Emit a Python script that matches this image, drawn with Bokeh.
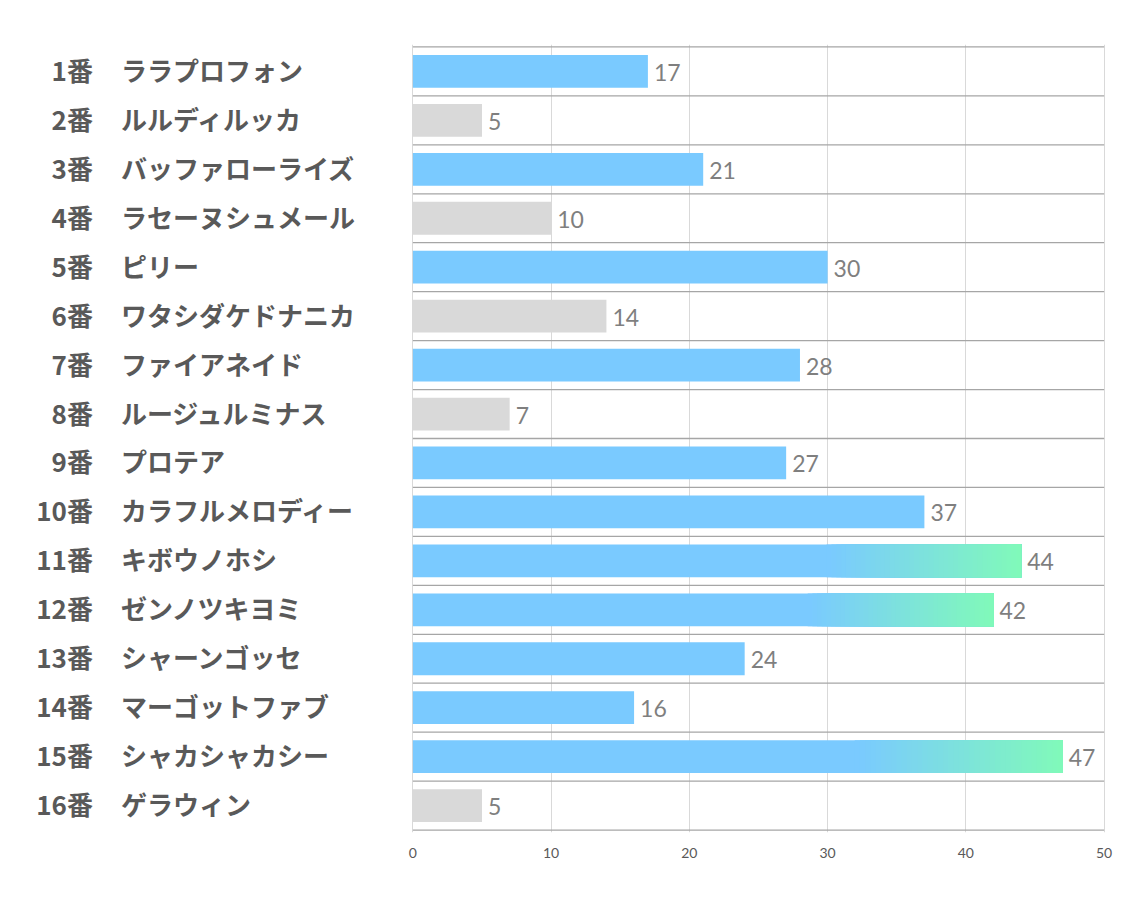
from bokeh.plotting import figure
from bokeh.models import ColumnDataSource, Range1d, FixedTicker
from bokeh.core.properties import value
from bokeh.embed import file_html
from bokeh.resources import INLINE

numbers = ["1番", "2番", "3番", "4番", "5番", "6番", "7番", "8番",
           "9番", "10番", "11番", "12番", "13番", "14番", "15番", "16番"]
names = ["ララプロフォン", "ルルディルッカ", "バッファローライズ", "ラセーヌシュメール",
         "ピリー", "ワタシダケドナニカ", "ファイアネイド", "ルージュルミナス",
         "プロテア", "カラフルメロディー", "キボウノホシ", "ゼンノツキヨミ",
         "シャーンゴッセ", "マーゴットファブ", "シャカシャカシー", "ゲラウィン"]
values = [17, 5, 21, 10, 30, 14, 28, 7, 27, 37, 44, 42, 24, 16, 47, 5]
x_ticks = [0, 10, 20, 30, 40, 50]

BLUE = (122, 202, 255)
GREEN = (128, 249, 186)
GRAY = "#D9D9D9"

def hexc(c):
    return "#%02x%02x%02x" % tuple(int(round(v)) for v in c)

n = len(values)
ypos = list(range(1, n + 1))
colors = [GRAY if v < 15 else hexc(BLUE) for v in values]

xmin, xmax = x_ticks[0], x_ticks[-1]
upp = (xmax - xmin + 0.2) / 694.0          # data units per pixel
left_px = 400                               # room for the labels

p = figure(width=1118, height=885, output_backend="svg", toolbar_location=None,
           x_range=Range1d(xmin - 0.1 - left_px * upp, xmax + 0.1),
           y_range=Range1d(n + 0.55, 0.45),
           min_border_left=11, min_border_right=13, min_border_top=44,
           min_border_bottom=53)
p.outline_line_color = None
p.background_fill_color = "white"
p.border_fill_color = "white"

p.yaxis.visible = False
p.xaxis.ticker = FixedTicker(ticks=x_ticks)
p.xaxis.axis_line_color = None
p.xaxis.major_tick_line_color = None
p.xaxis.minor_tick_line_color = None
p.xaxis.major_label_text_font = "Lato"
p.xaxis.major_label_text_font_size = "14px"
p.xaxis.major_label_text_color = "#595959"
p.xaxis.major_label_standoff = 9

p.xgrid.ticker = FixedTicker(ticks=x_ticks)
p.xgrid.grid_line_color = "#D9D9D9"
p.xgrid.grid_line_width = 1
p.ygrid.visible = False

# category separators
seps = [i + 0.5 for i in range(n + 1)]
p.segment(x0=[xmin] * len(seps), x1=[xmax] * len(seps), y0=seps, y1=seps,
          line_color="#A6A6A6", line_width=1.3)

src = ColumnDataSource(dict(y=ypos, v=values, c=colors, num=numbers, name=names,
                            x0=[xmin] * n))
p.hbar(y="y", left=xmin, right="v", height=0.67, fill_color="c", line_color=None, source=src)

# gradient for the top finishers
steps = 40
gl, gr, gy, gc = [], [], [], []
for y, v in zip(ypos, values):
    if v >= 40:
        start = 0.68 * v
        for k in range(steps):
            t = k / (steps - 1)
            gl.append(start + (v - start) * k / steps)
            gr.append(v)
            gy.append(y)
            gc.append(hexc([BLUE[i] + (GREEN[i] - BLUE[i]) * t for i in range(3)]))
p.hbar(y=gy, left=gl, right=gr, height=0.67, fill_color=gc, line_color=None)

p.text(x="v", y="y", text="v", source=src, x_offset=6, y_offset=1,
       text_align="left", text_baseline="middle",
       text_font=value("Lato"), text_font_size="23px", text_color="#7F7F7F")
p.text(x="x0", y="y", text="num", source=src, x_offset=-320, y_offset=-2,
       text_align="right", text_baseline="middle",
       text_font=value("Noto Sans CJK JP"), text_font_style="bold",
       text_font_size="26px", text_color="#595959")
p.text(x="x0", y="y", text="name", source=src, x_offset=-292, y_offset=-2,
       text_align="left", text_baseline="middle",
       text_font=value("Noto Sans CJK JP"), text_font_style="bold",
       text_font_size="26px", text_color="#595959")

open("out.html", "w").write(file_html(p, INLINE))
